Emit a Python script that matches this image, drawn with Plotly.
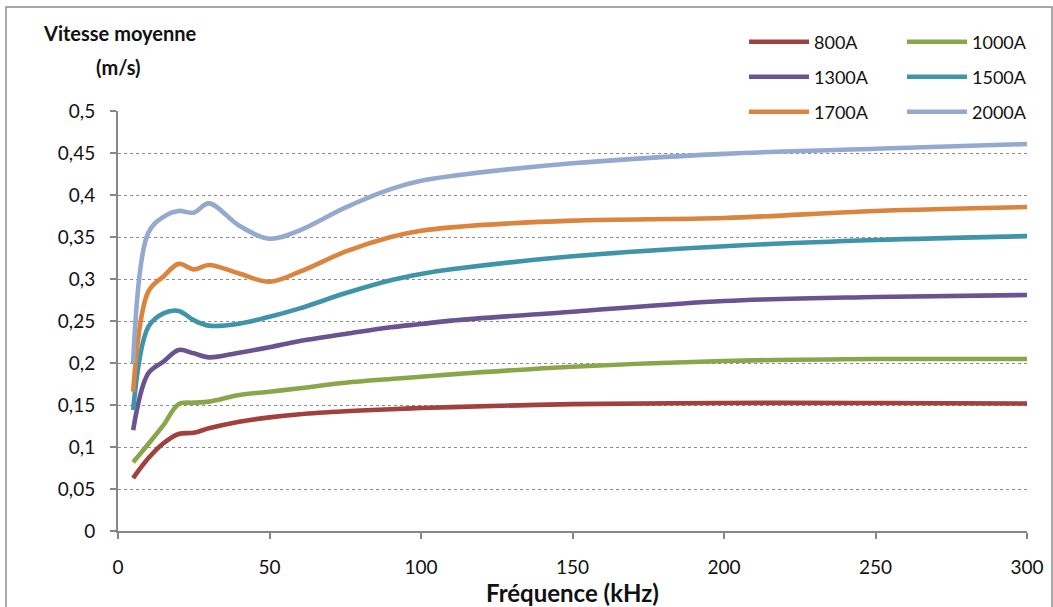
import plotly.graph_objects as go

freq = [5, 10, 15, 20, 25, 30, 40, 50, 60, 75, 90, 100, 110, 150, 200, 250, 300]

v800 = [0.063, 0.0865, 0.1044, 0.1155, 0.117, 0.1222, 0.130, 0.1353, 0.139, 0.1425, 0.145, 0.1464, 0.1475, 0.151, 0.1524, 0.1524, 0.1518]
v1000 = [0.0818, 0.1036, 0.126, 0.151, 0.1528, 0.154, 0.1619, 0.1658, 0.1699, 0.1765, 0.181, 0.1837, 0.1865, 0.1956, 0.2024, 0.2048, 0.2048]
v1300 = [0.1202, 0.1877, 0.2016, 0.2155, 0.2115, 0.2067, 0.2123, 0.2187, 0.2262, 0.2345, 0.2425, 0.2464, 0.2504, 0.261, 0.2738, 0.2786, 0.281]
v1500 = [0.144, 0.243, 0.259, 0.262, 0.251, 0.2445, 0.2468, 0.255, 0.265, 0.283, 0.2985, 0.306, 0.3115, 0.327, 0.339, 0.3464, 0.351]
v1700 = [0.166, 0.285, 0.303, 0.318, 0.3115, 0.3167, 0.3065, 0.2968, 0.3087, 0.3325, 0.350, 0.3575, 0.3615, 0.3695, 0.3726, 0.381, 0.3857]
v2000 = [0.20, 0.355, 0.374, 0.381, 0.379, 0.390, 0.3635, 0.348, 0.358, 0.385, 0.407, 0.417, 0.4226, 0.4377, 0.449, 0.455, 0.4607]

names = ["800A", "1000A", "1300A", "1500A", "1700A", "2000A"]
series = [v800, v1000, v1300, v1500, v1700, v2000]
colors = ["#A1403C", "#8AA64A", "#6B5290", "#3F94AA", "#DB843D", "#93A9CF"]
legend_ids = ["legend", "legend", "legend2", "legend2", "legend3", "legend3"]

FONT = "Lato"

fig = go.Figure()
for n, s, c, lg in zip(names, series, colors, legend_ids):
    fig.add_trace(go.Scatter(
        x=freq, y=s, name=n, mode="lines",
        line=dict(color=c, width=4.6, shape="spline", smoothing=1.0),
        legend=lg,
    ))

W, H = 1053, 607
L, R, T, B = 118, 26, 111, 76
pw, ph = W - L - R, H - T - B

def px_x(p):
    return (p - L) / pw

def px_y(p):
    return 1 - (p - T) / ph

legend_common = dict(
    orientation="h", xref="paper", yref="paper",
    x=px_x(744), xanchor="left", yanchor="middle",
    font=dict(family=FONT, size=18, color="#111"),
    bgcolor="rgba(0,0,0,0)", borderwidth=0,
    itemwidth=60, entrywidth=83, entrywidthmode="pixels",
    itemclick=False, itemdoubleclick=False,
)

fig.update_layout(
    width=W, height=H,
    margin=dict(l=L, r=R, t=T, b=B, autoexpand=False),
    paper_bgcolor="white", plot_bgcolor="white",
    separators=", ",
    font=dict(family=FONT, size=16, color="#111"),
    legend=dict(legend_common, y=px_y(42)),
    legend2=dict(legend_common, y=px_y(77)),
    legend3=dict(legend_common, y=px_y(112)),
    showlegend=True,
    xaxis=dict(
        range=[0, 300], tickmode="linear", tick0=0, dtick=50,
        showgrid=False, zeroline=False,
        showline=True, linecolor="#878787", linewidth=2,
        ticks="outside", ticklen=6, tickcolor="#878787", tickwidth=2,
        tickfont=dict(family=FONT, size=19, color="#111"),
        ticklabelstandoff=12,
        title=dict(text="<b>Fréquence (kHz)</b>", font=dict(family=FONT, size=24, color="#111"), standoff=0),
    ),
    yaxis=dict(
        range=[0, 0.5], tickmode="linear", tick0=0, dtick=0.05,
        showgrid=True, gridcolor="#8c8c8c", gridwidth=1, griddash="dot",
        zeroline=False,
        showline=True, linecolor="#878787", linewidth=2,
        ticks="outside", ticklen=6, tickcolor="#878787", tickwidth=2,
        tickfont=dict(family=FONT, size=19, color="#111"),
        ticklabelstandoff=11,
    ),
    annotations=[
        dict(text="<b>Vitesse moyenne</b>", xref="paper", yref="paper",
             x=px_x(119), y=px_y(33), xanchor="center", yanchor="middle",
             showarrow=False, font=dict(family=FONT, size=20, color="#111")),
        dict(text="<b>(m/s)</b>", xref="paper", yref="paper",
             x=px_x(118), y=px_y(67), xanchor="center", yanchor="middle",
             showarrow=False, font=dict(family=FONT, size=20, color="#111")),
    ],
    shapes=[
        dict(type="rect", xref="paper", yref="paper",
             x0=px_x(6), x1=px_x(1052), y0=px_y(640), y1=px_y(7),
             line=dict(color="#8c8c8c", width=1.5), fillcolor="rgba(0,0,0,0)", layer="below"),
    ],
)

fig.write_html(
    "out.html",
    config={"displayModeBar": False},
    post_script="document.body.style.margin='0';document.body.style.overflow='hidden';",
)
